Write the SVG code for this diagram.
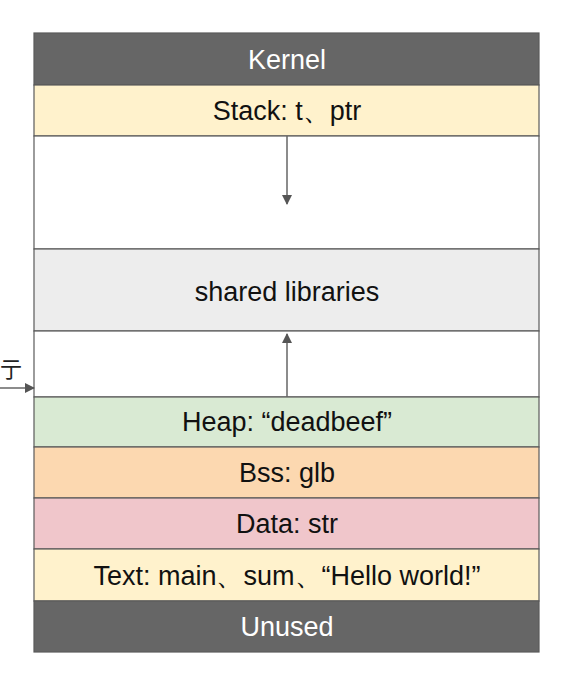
<svg xmlns="http://www.w3.org/2000/svg" width="564" height="673" viewBox="0 0 564 673">
<defs>
<style>
.seg{stroke:#5a5a5a;stroke-width:1.2}
.t{font-family:"Liberation Sans",Arial,sans-serif;font-size:27px;text-anchor:middle;fill:#111}
.w{fill:#ffffff}
.conn{stroke:#666;stroke-width:1.5;fill:none}
</style>
<marker id="ah" markerWidth="12" markerHeight="12" refX="9" refY="5" orient="auto" markerUnits="userSpaceOnUse">
<path d="M0,0 L10,5 L0,10 z" fill="#555"/>
</marker>
</defs>
<rect width="564" height="673" fill="#ffffff"/>
<g id="kernel"><rect class="seg" x="34" y="33" width="505" height="52" fill="#666666"/><text class="t w" x="287" y="69">Kernel</text></g>
<g id="stack"><rect class="seg" x="34" y="85" width="505" height="51" fill="#fff2cc"/><text class="t" x="287" y="120">Stack: t、ptr</text></g>
<g id="gap1"><rect class="seg" x="34" y="136" width="505" height="113" fill="#ffffff"/></g>
<g id="shared"><rect class="seg" x="34" y="249" width="505" height="82" fill="#ededed"/><text class="t" x="287" y="301">shared libraries</text></g>
<g id="gap2"><rect class="seg" x="34" y="331" width="505" height="66" fill="#ffffff"/></g>
<g id="heap"><rect class="seg" x="34" y="397" width="505" height="50" fill="#d9ead3"/><text class="t" x="287" y="431">Heap: “deadbeef”</text></g>
<g id="bss"><rect class="seg" x="34" y="447" width="505" height="51" fill="#fcd8b0"/><text class="t" x="287" y="482">Bss: glb</text></g>
<g id="data"><rect class="seg" x="34" y="498" width="505" height="51" fill="#f0c6cb"/><text class="t" x="287" y="533">Data: str</text></g>
<g id="text"><rect class="seg" x="34" y="549" width="505" height="52" fill="#fff2cc"/><text class="t" x="287" y="585">Text: main、sum、“Hello world!”</text></g>
<g id="unused"><rect class="seg" x="34" y="601" width="505" height="51" fill="#666666"/><text class="t w" x="287" y="636">Unused</text></g>
<g id="side-label"><text x="0" y="377" style="font-family:'Noto Sans CJK SC',sans-serif;font-size:22px;fill:#222">亍</text></g>
<g id="connectors">
<line class="conn" x1="287" y1="136" x2="287" y2="204" marker-end="url(#ah)"/>
<line class="conn" x1="287" y1="397" x2="287" y2="334" marker-end="url(#ah)"/>
<line class="conn" x1="0" y1="388" x2="34" y2="388" marker-end="url(#ah)"/>
</g>
</svg>
